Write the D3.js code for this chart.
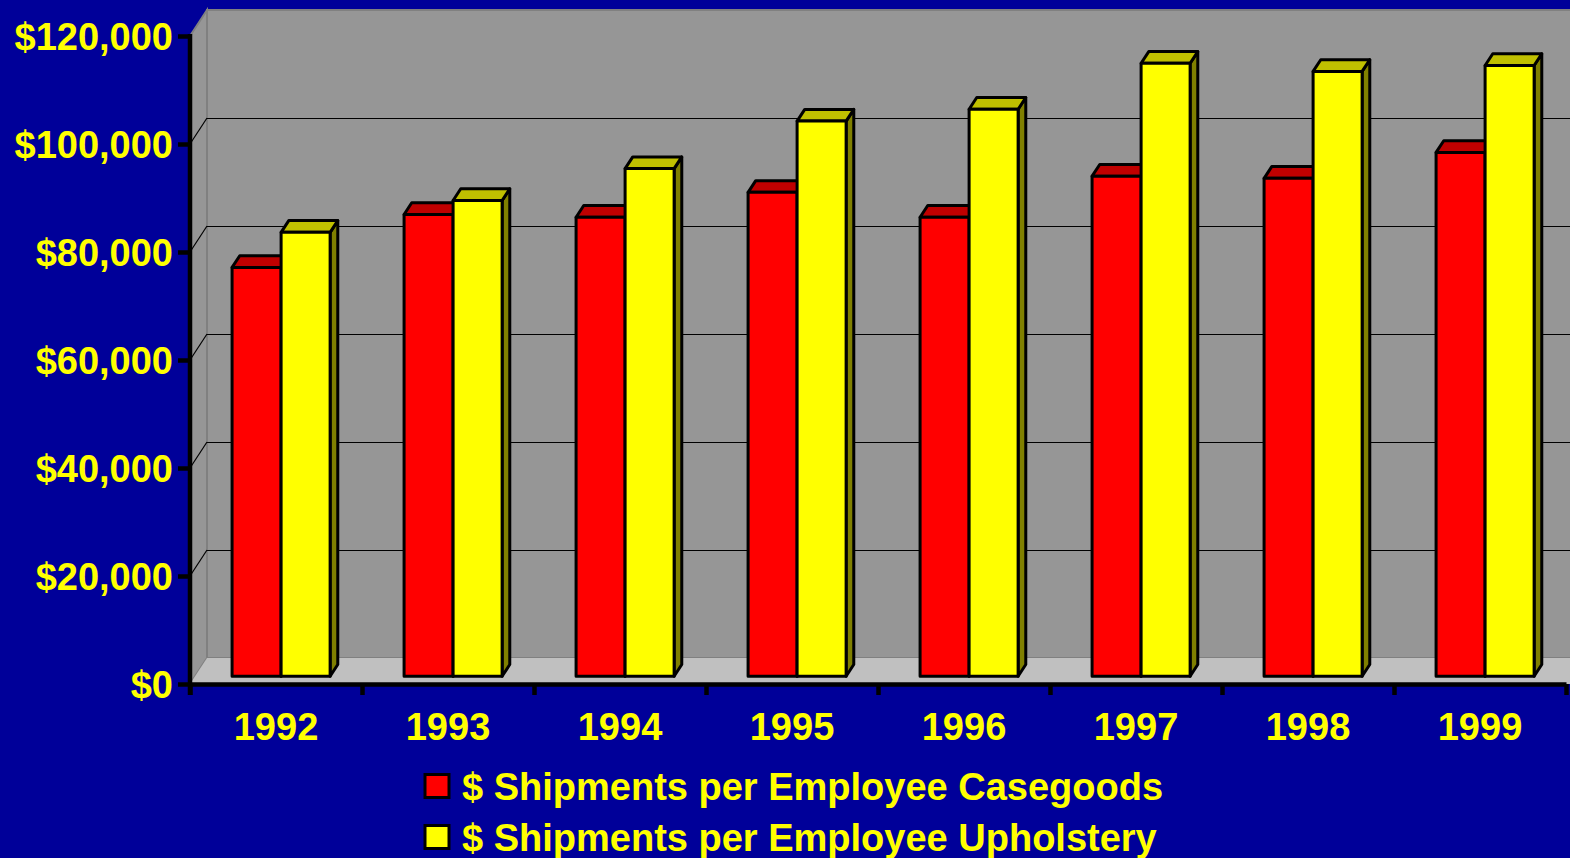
<!DOCTYPE html>
<html>
<head>
<meta charset="utf-8">
<script src="https://cdn.jsdelivr.net/npm/d3@7"></script>
<style>
  html, body { margin: 0; padding: 0; background: #000099; }
  svg { display: block; }
  text { font-family: "Liberation Sans", Arial, sans-serif; font-weight: bold; fill: #ffff00; }
</style>
</head>
<body>
<div id="chart"></div>
<script>
// Data
const years = ["1992", "1993", "1994", "1995", "1996", "1997", "1998", "1999"];
const casegoods = [75700, 85500, 85000, 89600, 85000, 92600, 92200, 97000];
const upholstery = [82200, 88100, 94000, 102800, 105000, 113500, 112000, 113100];
const seriesNames = [
  "$ Shipments per Employee Casegoods",
  "$ Shipments per Employee Upholstery",
];
const yTicks = [0, 20000, 40000, 60000, 80000, 100000, 120000];

const WIDTH = 1570;
const HEIGHT = 858;
const FONT_SIZE = 38;

// Fake 3D: offset of the back wall from the front plane
const DEPTH = { dx: 17, dy: -26 };
const BAR_FRONT = 0.3; // depth fraction where the bar fronts sit
const BAR_DEPTH = 0.45; // bar thickness as fraction of the full depth

const COLORS = [
  { front: "#ff0000", top: "#c00000", side: "#800000" },
  { front: "#ffff00", top: "#c0c000", side: "#808000" },
];

const svg = d3
  .select("#chart")
  .append("svg")
  .attr("width", WIDTH)
  .attr("height", HEIGHT);

svg.append("rect").attr("width", WIDTH).attr("height", HEIGHT).attr("fill", "#000099");

const y = d3.scaleLinear().domain([0, 120000]).range([684, 36]);
const x = d3
  .scaleBand()
  .domain(years)
  .range([190, 1566])
  .paddingInner(0.43)
  .paddingOuter(0.215);
const xs = d3.scaleBand().domain([0, 1]).range([0, x.bandwidth()]);

const left = 190;
const right = 1566;
const y0 = y(0);
const yTop = y(120000);

// Walls and floor
const back = svg.append("g").attr("class", "walls");
back
  .append("rect")
  .attr("x", left + DEPTH.dx)
  .attr("y", yTop + DEPTH.dy)
  .attr("width", right - left + 40)
  .attr("height", y0 - yTop)
  .attr("fill", "#969696")
  .attr("stroke", "#808080")
  .attr("stroke-width", 2);

back
  .append("polygon")
  .attr("points", [
    [left, yTop],
    [left + DEPTH.dx, yTop + DEPTH.dy],
    [left + DEPTH.dx, y0 + DEPTH.dy],
    [left, y0],
  ].join(" "))
  .attr("fill", "#969696")
  .attr("stroke", "#808080")
  .attr("stroke-width", 2);

back
  .append("polygon")
  .attr("points", [
    [left, y0],
    [left + DEPTH.dx, y0 + DEPTH.dy],
    [right + DEPTH.dx + 40, y0 + DEPTH.dy],
    [right + 40, y0],
  ].join(" "))
  .attr("fill", "#c0c0c0");

// Grid lines on back wall and side wall
const gridVals = yTicks.filter((d) => d > 0 && d < 120000);
const grid = svg.append("g").attr("class", "grid").attr("stroke", "#000");
grid
  .selectAll("line.back")
  .data(gridVals)
  .join("line")
  .attr("class", "back")
  .attr("x1", left + DEPTH.dx)
  .attr("x2", WIDTH)
  .attr("y1", (d) => Math.round(y(d) + DEPTH.dy) + 0.5)
  .attr("y2", (d) => Math.round(y(d) + DEPTH.dy) + 0.5)
  .attr("stroke-width", 1.5)
  .attr("shape-rendering", "crispEdges");
grid
  .selectAll("line.side")
  .data(gridVals)
  .join("line")
  .attr("class", "side")
  .attr("x1", left)
  .attr("x2", left + DEPTH.dx)
  .attr("y1", (d) => y(d))
  .attr("y2", (d) => y(d) + DEPTH.dy)
  .attr("stroke-width", 1.2);

// Bars
const rows = years.map((yr, i) => ({ year: yr, values: [casegoods[i], upholstery[i]] }));
const fdx = DEPTH.dx * BAR_FRONT;
const fdy = DEPTH.dy * BAR_FRONT;
const bdx = DEPTH.dx * BAR_DEPTH;
const bdy = DEPTH.dy * BAR_DEPTH;
const bw = xs.bandwidth();

const bars = svg.append("g").attr("class", "bars")
  .attr("stroke", "#000")
  .attr("stroke-width", 3)
  .attr("stroke-linejoin", "round");

rows.forEach((row) => {
  const g = bars.append("g");
  row.values.forEach((v, s) => {
    const xb = x(row.year) + xs(s) + fdx;
    const yt = y(v) + fdy;
    const yb = y0 + fdy;
    const c = COLORS[s];
    g.append("polygon")
      .attr("points", [
        [xb + bw, yt], [xb + bw + bdx, yt + bdy], [xb + bw + bdx, yb + bdy], [xb + bw, yb],
      ].join(" "))
      .attr("fill", c.side);
    g.append("polygon")
      .attr("points", [
        [xb, yt], [xb + bdx, yt + bdy], [xb + bw + bdx, yt + bdy], [xb + bw, yt],
      ].join(" "))
      .attr("fill", c.top);
    g.append("rect")
      .attr("x", xb)
      .attr("y", yt)
      .attr("width", bw)
      .attr("height", yb - yt)
      .attr("fill", c.front);
  });
});

// Y axis
const gy = svg
  .append("g")
  .attr("class", "y axis")
  .attr("transform", `translate(${left},0)`)
  .call(
    d3.axisLeft(y)
      .tickValues(yTicks)
      .tickSize(12)
      .tickSizeOuter(0)
      .tickPadding(5)
      .tickFormat((d) => "$" + d3.format(",")(d)),
  );
gy.select(".domain").remove();
gy.selectAll(".tick line").attr("stroke", "#000").attr("stroke-width", 4.5);
gy.selectAll(".tick text")
  .attr("font-size", FONT_SIZE)
  .attr("font-family", null)
  .attr("dy", "0.35em");
gy.append("line")
  .attr("y1", yTop - 2)
  .attr("y2", y0 + 11)
  .attr("stroke", "#000")
  .attr("stroke-width", 4.5);

// X axis: boundary ticks
const xEdge = d3.scaleLinear().domain([0, years.length]).range([left, right]);
const gxt = svg
  .append("g")
  .attr("class", "x axis ticks")
  .attr("transform", `translate(0,${y0})`)
  .call(d3.axisBottom(xEdge).ticks(years.length).tickFormat("").tickSize(11).tickSizeOuter(0));
gxt.select(".domain").attr("stroke", "#000").attr("stroke-width", 4.5);
gxt.selectAll(".tick line").attr("stroke", "#000").attr("stroke-width", 4.5);

// X axis: labels
const gx = svg
  .append("g")
  .attr("class", "x axis labels")
  .attr("transform", `translate(0,${y0})`)
  .call(d3.axisBottom(x).tickSize(0));
gx.select(".domain").remove();
gx.selectAll(".tick text")
  .attr("font-size", FONT_SIZE)
  .attr("font-family", null)
  .attr("y", 56)
  .attr("dy", null);

// Legend
const legend = svg
  .append("g")
  .attr("class", "legend")
  .selectAll("g")
  .data(seriesNames)
  .join("g")
  .attr("transform", (d, i) => `translate(425,${786 + i * 51})`);
legend
  .append("rect")
  .attr("x", 0)
  .attr("y", -11.5)
  .attr("width", 24)
  .attr("height", 23)
  .attr("fill", (d, i) => COLORS[i].front)
  .attr("stroke", "#000")
  .attr("stroke-width", 3);
legend
  .append("text")
  .attr("x", 37)
  .attr("y", 0)
  .attr("dy", "0.36em")
  .attr("font-size", FONT_SIZE)
  .text((d) => d);
</script>
</body>
</html>
